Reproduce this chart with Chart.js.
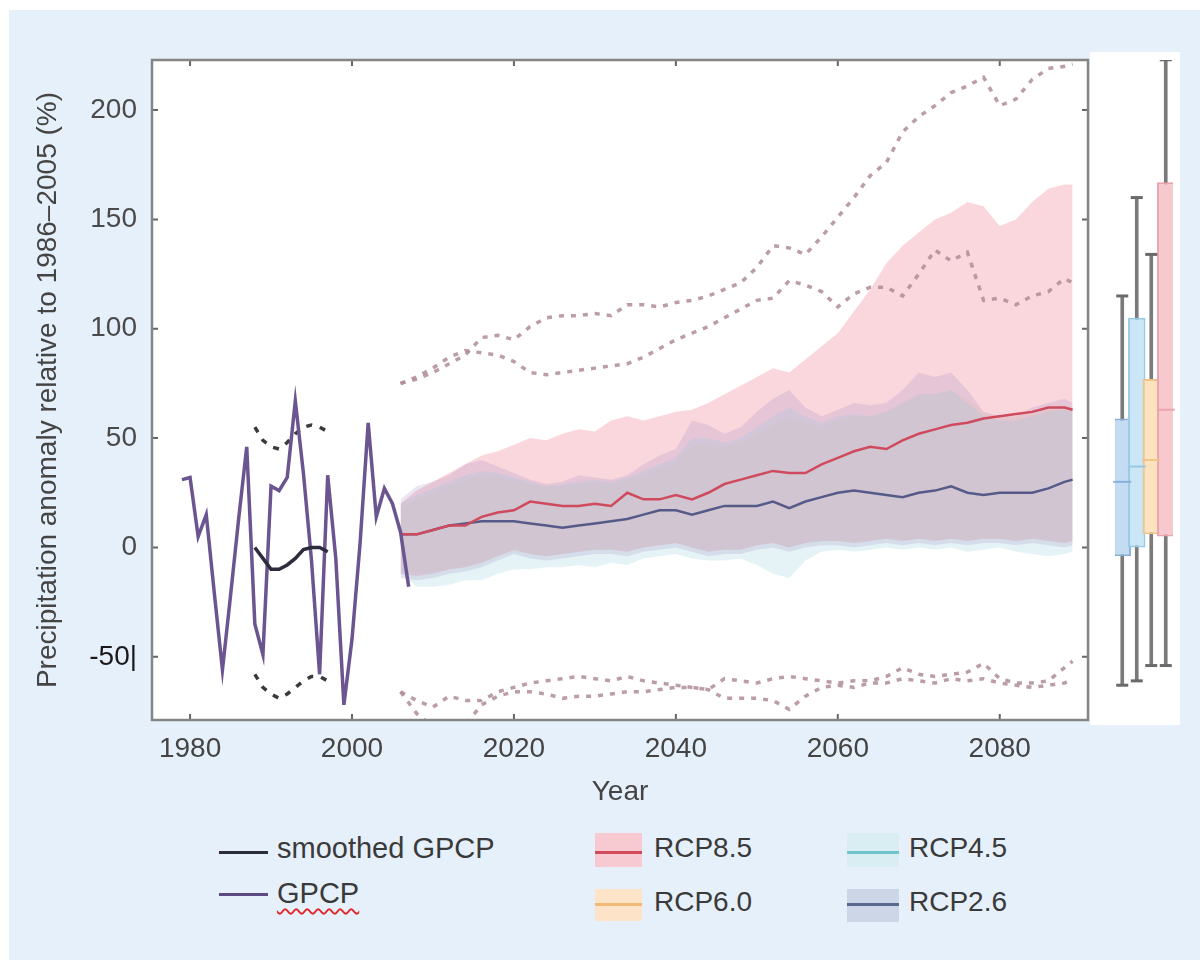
<!DOCTYPE html>
<html>
<head>
<meta charset="utf-8">
<title>Precipitation anomaly projections</title>
<script src="https://cdn.jsdelivr.net/npm/chart.js@4.4.1/dist/chart.umd.min.js"></script>
<style>
  html, body { margin: 0; padding: 0; background: #fff; }
  body { width: 1200px; height: 970px; position: relative; overflow: hidden;
         font-family: 'Liberation Sans', Arial, sans-serif; }
  #panel { position: absolute; left: 9px; top: 10px; width: 1191px; height: 950px; background: #e6f0fa; }
  #boxPanel { position: absolute; left: 1090px; top: 52px; width: 90px; height: 673px; background: #fff; }
  #main { position: absolute; left: 0; top: 0; }
  #boxes { position: absolute; left: 1104px; top: 0; }
  .lg { position: absolute; font-size: 28px; line-height: 28px; color: #3a3a3a; white-space: nowrap; }
  .sw { position: absolute; }
  .squiggle { text-decoration: underline wavy #e02626; text-decoration-thickness: 2px; text-underline-offset: 5px; }
</style>
</head>
<body>
<div id="panel"></div>
<div id="boxPanel"></div>
<canvas id="main" width="1100" height="830"></canvas>
<canvas id="boxes" width="80" height="780"></canvas>

<!-- legend -->
<div class="sw" style="left:219px;top:851px;width:49px;height:3px;background:#2c2c3c"></div>
<div class="lg" style="left:277px;top:834px;font-size:29px">smoothed GPCP</div>
<div class="sw" style="left:219px;top:893px;width:49px;height:3px;background:#5c4a80"></div>
<div class="lg" style="left:277px;top:879px;font-size:29px"><span class="squiggle">GPCP</span></div>

<div class="sw" style="left:595px;top:833px;width:47px;height:34px;background:#f7c9d0"></div>
<div class="sw" style="left:595px;top:851px;width:47px;height:3px;background:#d04a5c"></div>
<div class="lg" style="left:654px;top:834px">RCP8.5</div>
<div class="sw" style="left:595px;top:889px;width:47px;height:32px;background:#fde4c8"></div>
<div class="sw" style="left:595px;top:903px;width:47px;height:3px;background:#f2b878"></div>
<div class="lg" style="left:654px;top:888px">RCP6.0</div>

<div class="sw" style="left:847px;top:833px;width:52px;height:34px;background:#d9eef3"></div>
<div class="sw" style="left:847px;top:851px;width:52px;height:3px;background:#70c4cc"></div>
<div class="lg" style="left:909px;top:834px">RCP4.5</div>
<div class="sw" style="left:847px;top:889px;width:52px;height:33px;background:#cdd6e6"></div>
<div class="sw" style="left:847px;top:903px;width:52px;height:3px;background:#5a6890"></div>
<div class="lg" style="left:909px;top:888px">RCP2.6</div>

<script>
// Observed record (GPCP) and its smoothed version with bounds
var gpcpYears = [1979, 1980, 1981, 1982, 1983, 1984, 1985, 1986, 1987, 1988,
                 1989, 1990, 1991, 1992, 1993, 1994, 1995, 1996, 1997, 1998,
                 1999, 2000, 2001, 2002, 2003, 2004, 2005, 2006, 2007];
var gpcpValues = [31, 32, 5, 15, -21, -56, -22, 13, 46, -35,
                  -49, 28, 26, 32, 67, 34, -6, -58, 33, -5,
                  -72, -42, 2, 57, 14, 27, 20, 7, -18];

var smoothYears = [1988, 1989, 1990, 1991, 1992, 1993, 1994, 1995, 1996, 1997];
var smoothValues = [0, -5, -10, -10, -8, -5, -1, 0, 0, -2];
var smoothUpper = [55, 49, 46, 45, 48, 52, 55, 56, 55, 53];
var smoothLower = [-58, -64, -67, -69, -67, -64, -61, -59, -59, -61];

// Projections, two-year steps
var projYears = [2006, 2008, 2010, 2012, 2014, 2016, 2018, 2020, 2022, 2024,
                 2026, 2028, 2030, 2032, 2034, 2036, 2038, 2040, 2042, 2044,
                 2046, 2048, 2050, 2052, 2054, 2056, 2058, 2060, 2062, 2064,
                 2066, 2068, 2070, 2072, 2074, 2076, 2078, 2080, 2082, 2084,
                 2086, 2088, 2089];

var rcp85Mean = [6, 6, 8, 10, 10, 14, 16, 17, 21, 20,
                 19, 19, 20, 19, 25, 22, 22, 24, 22, 25,
                 29, 31, 33, 35, 34, 34, 38, 41, 44, 46,
                 45, 49, 52, 54, 56, 57, 59, 60, 61, 62,
                 64, 64, 63];
var rcp26Mean = [6, 6, 8, 10, 11, 12, 12, 12, 11, 10,
                 9, 10, 11, 12, 13, 15, 17, 17, 15, 17,
                 19, 19, 19, 21, 18, 21, 23, 25, 26, 25,
                 24, 23, 25, 26, 28, 25, 24, 25, 25, 25,
                 27, 30, 31];

var rcp85Hi = [20, 26, 30, 34, 38, 42, 44, 47, 50, 49,
               52, 54, 53, 58, 60, 58, 60, 62, 63, 66,
               70, 74, 78, 82, 80, 86, 92, 98, 108, 118,
               130, 138, 144, 150, 153, 158, 156, 147, 150, 158,
               164, 166, 166];
var rcp85Lo = [-12, -13, -12, -10, -9, -7, -4, -1, -3, -4,
               -3, -2, -1, -1, -2, 0, 1, 2, 0, -2,
               -1, -1, 1, 2, 0, 2, 3, 3, 2, 3,
               4, 3, 4, 3, 4, 3, 4, 4, 3, 4,
               3, 2, 3];
var rcp60Hi = [18, 22, 25, 28, 31, 33, 32, 31, 29, 28,
               28, 29, 30, 29, 31, 33, 36, 39, 46, 47,
               46, 48, 52, 56, 60, 57, 55, 58, 60, 60,
               62, 66, 70, 70, 72, 68, 62, 60, 60, 62,
               64, 65, 64];
var rcp60Lo = [-10, -12, -11, -10, -9, -7, -4, -2, -3, -4,
               -3, -2, -1, -1, -2, 0, 1, 2, 0, -2,
               -1, -1, 1, 2, 0, 2, 3, 3, 2, 3,
               4, 3, 4, 3, 4, 3, 4, 4, 3, 4,
               3, 2, 3];
var rcp45Hi = [20, 24, 27, 30, 33, 35, 34, 32, 30, 28,
               29, 30, 31, 30, 32, 35, 38, 41, 50, 50,
               48, 50, 55, 60, 64, 60, 57, 60, 61, 60,
               62, 66, 70, 70, 72, 66, 60, 58, 58, 60,
               62, 63, 62];
var rcp45Lo = [-12, -18, -18, -17, -15, -15, -12, -10, -10, -9,
               -9, -8, -9, -7, -8, -5, -4, -3, -5, -6,
               -6, -5, -8, -12, -14, -6, -2, -1, -2, -1,
               0, -1, 0, -1, 0, -2, -1, 0, -2, -3,
               -4, -3, -2];
var rcp26Hi = [22, 28, 30, 33, 38, 40, 37, 34, 31, 29,
               30, 33, 32, 31, 33, 38, 42, 45, 58, 56,
               52, 55, 62, 68, 72, 64, 60, 63, 66, 65,
               66, 72, 80, 78, 80, 72, 62, 60, 60, 64,
               66, 68, 66];
var rcp26Lo = [-14, -15, -14, -12, -11, -9, -6, -3, -5, -6,
               -5, -4, -3, -3, -4, -2, -1, 0, -2, -4,
               -3, -3, -1, 0, -2, 0, 1, 1, 0, 1,
               2, 1, 2, 1, 2, 1, 2, 2, 1, 2,
               1, 0, 1];

// Dashed envelope of the individual model runs
var extremeA = [75, 77, 80, 84, 88, 96, 97, 95, 101, 105,
                106, 106, 107, 106, 111, 111, 110, 112, 113, 115,
                118, 121, 128, 138, 137, 134, 142, 151, 160, 170,
                176, 190, 197, 202, 208, 211, 215, 202, 205, 214,
                219, 220, 221];
var extremeB = [75, 78, 82, 87, 90, 89, 88, 85, 80, 79,
                80, 81, 82, 83, 84, 87, 91, 95, 98, 101,
                105, 109, 113, 114, 122, 120, 117, 110, 116, 119,
                119, 115, 125, 136, 131, 135, 113, 114, 111, 115,
                117, 123, 121];
var extremeC = [-66, -70, -73, -68, -70, -70, -66, -64, -62, -61,
                -60, -59, -60, -61, -59, -61, -62, -63, -64, -65,
                -60, -61, -62, -60, -59, -60, -61, -62, -61, -61,
                -59, -55, -58, -59, -58, -57, -53, -60, -62, -62,
                -61, -55, -52];
var extremeD = [-66, -76, -82, -84, -81, -72, -68, -66, -66, -67,
                -69, -68, -68, -67, -66, -66, -65, -64, -64, -65,
                -69, -69, -69, -70, -74, -68, -64, -63, -64, -62,
                -62, -60, -61, -62, -60, -61, -60, -62, -63, -64,
                -63, -62, -60];

// Axis ticks
var yTickValues = [-50, 0, 50, 100, 150, 200];
var yTickLabels = ['-50|', '0', '50', '100', '150', '200'];
var xTickValues = [1980, 2000, 2020, 2040, 2060, 2080];
var xTickLabels = ['1980', '2000', '2020', '2040', '2060', '2080'];

// End-of-century spread per scenario
var boxLabels = ['RCP2.6', 'RCP4.5', 'RCP6.0', 'RCP8.5'];
var boxMin = [-63, -61, -54, -54];
var boxQ1 = [-4, 0, 6, 5];
var boxMedian = [30, 37, 40, 63];
var boxQ3 = [59, 105, 77, 167];
var boxMax = [115, 160, 134, 223];

var Y_MIN = -78.9, Y_MAX = 222.9;

Chart.defaults.font.family = "'Liberation Sans', Arial, sans-serif";
Chart.defaults.color = '#444';

function pts(xs, ys) {
  return xs.map(function (x, i) { return { x: x, y: ys[i] }; });
}

function lineSet(xs, ys, color, width, dash, order) {
  return { data: pts(xs, ys), borderColor: color, borderWidth: width,
           borderDash: dash || [], fill: false, order: order };
}

// upper edge fills down to the dataset that follows it
function bandSets(hi, lo, color, order) {
  return [
    { data: pts(projYears, hi), borderWidth: 0, borderColor: 'transparent',
      backgroundColor: color, fill: '+1', order: order },
    { data: pts(projYears, lo), borderWidth: 0, borderColor: 'transparent',
      fill: false, order: order }
  ];
}

var datasets = []
  .concat(bandSets(rcp85Hi, rcp85Lo, 'rgba(242,160,175,0.42)', 9))
  .concat(bandSets(rcp60Hi, rcp60Lo, 'rgba(250,200,140,0.12)', 8))
  .concat(bandSets(rcp45Hi, rcp45Lo, 'rgba(170,215,230,0.30)', 7))
  .concat(bandSets(rcp26Hi, rcp26Lo, 'rgba(160,140,190,0.22)', 6))
  .concat([
    lineSet(projYears, extremeA, 'rgba(175,140,150,0.85)', 3.5, [5, 7], 4),
    lineSet(projYears, extremeB, 'rgba(175,140,150,0.85)', 3.5, [5, 7], 4),
    lineSet(projYears, extremeC, 'rgba(175,140,150,0.85)', 3.5, [5, 7], 4),
    lineSet(projYears, extremeD, 'rgba(175,140,150,0.85)', 3.5, [5, 7], 4),
    lineSet(projYears, rcp85Mean, '#cf4a5c', 2.5, null, 3),
    lineSet(projYears, rcp26Mean, '#555a88', 2.5, null, 3),
    lineSet(smoothYears, smoothUpper, '#3a3a3a', 3.5, [6, 8], 2),
    lineSet(smoothYears, smoothLower, '#3a3a3a', 3.5, [6, 8], 2),
    lineSet(gpcpYears, gpcpValues, '#6a5590', 3.5, null, 1),
    lineSet(smoothYears, smoothValues, '#2c2c3c', 3.5, null, 0)
  ]);

// white plot area, grey frame and short inward ticks on all four sides
var plotFrame = {
  id: 'plotFrame',
  beforeDraw: function (chart) {
    var a = chart.chartArea, ctx = chart.ctx;
    ctx.save();
    ctx.fillStyle = '#fff';
    ctx.fillRect(a.left, a.top, a.right - a.left, a.bottom - a.top);
    ctx.restore();
  },
  afterDraw: function (chart) {
    var a = chart.chartArea, ctx = chart.ctx;
    var xs = chart.scales.x, ys = chart.scales.y;
    ctx.save();
    ctx.strokeStyle = '#666';
    ctx.lineWidth = 2;
    ctx.beginPath();
    xTickValues.forEach(function (v) {
      var px = xs.getPixelForValue(v);
      ctx.moveTo(px, a.bottom); ctx.lineTo(px, a.bottom - 6);
      ctx.moveTo(px, a.top); ctx.lineTo(px, a.top + 6);
    });
    yTickValues.forEach(function (v) {
      var py = ys.getPixelForValue(v);
      ctx.moveTo(a.left, py); ctx.lineTo(a.left + 6, py);
      ctx.moveTo(a.right, py); ctx.lineTo(a.right - 6, py);
    });
    ctx.stroke();
    ctx.strokeStyle = '#858585';
    ctx.lineWidth = 2.5;
    ctx.strokeRect(a.left, a.top, a.right - a.left, a.bottom - a.top);
    ctx.restore();
  }
};

new Chart(document.getElementById('main'), {
  type: 'line',
  data: { datasets: datasets },
  options: {
    responsive: false,
    animation: false,
    layout: { padding: { top: 60, right: 12, left: 0, bottom: 0 } },
    elements: { point: { radius: 0 }, line: { tension: 0 } },
    plugins: { legend: { display: false }, tooltip: { enabled: false } },
    scales: {
      x: {
        type: 'linear', min: 1975.3, max: 2090.9,
        grid: { display: false, drawTicks: false }, border: { display: false },
        afterBuildTicks: function (s) { s.ticks = xTickValues.map(function (v) { return { value: v }; }); },
        afterFit: function (s) { s.height = 110; },
        ticks: { padding: 12, color: '#444', font: { size: 28 }, autoSkip: false, maxRotation: 0,
                 callback: function (v) { return xTickLabels[xTickValues.indexOf(v)]; } },
        title: { display: true, text: 'Year', color: '#444', font: { size: 28 },
                 padding: { top: 0, bottom: 21 } }
      },
      y: {
        min: Y_MIN, max: Y_MAX,
        grid: { display: false, drawTicks: false }, border: { display: false },
        afterBuildTicks: function (s) { s.ticks = yTickValues.map(function (v) { return { value: v }; }); },
        afterFit: function (s) { s.width = 152; },
        ticks: { padding: 15, font: { size: 28 },
                 color: function (c) { return c.tick && c.tick.value === -50 ? '#1a1a1a' : '#4a4a4a'; },
                 callback: function (v) { return yTickLabels[yTickValues.indexOf(v)]; } },
        title: { display: true, text: 'Precipitation anomaly relative to 1986\u20132005 (%)',
                 color: '#444', font: { size: 28 }, padding: { top: 31, bottom: 0 } }
      }
    }
  },
  plugins: [plotFrame]
});

// Box plots beside the main panel, sharing its vertical range
var boxFill = ['#c4dcf2', '#cbe6f6', '#fde2bf', '#f7c9cf'];
var boxEdge = ['#88b0dc', '#96cbe6', '#f1c48a', '#e8a3ad'];

function capSet(values, radius, color, width) {
  return { type: 'line', data: values, showLine: false, pointStyle: 'line',
           pointRadius: radius, pointBorderWidth: width, pointBorderColor: color, order: 0 };
}

new Chart(document.getElementById('boxes'), {
  type: 'bar',
  data: {
    labels: boxLabels,
    datasets: [
      capSet(boxMedian, 9, boxEdge, 2),
      capSet(boxMax, 6, '#6a6a6a', 3),
      capSet(boxMin, 6, '#6a6a6a', 3),
      { data: boxQ1.map(function (q, i) { return [q, boxQ3[i]]; }),
        backgroundColor: boxFill, borderColor: boxEdge, borderWidth: 2, borderSkipped: false,
        grouped: false, barPercentage: 1.2, categoryPercentage: 1, order: 1 },
      { data: boxMin.map(function (m, i) { return [m, boxMax[i]]; }),
        backgroundColor: '#7a7a7a', barThickness: 3, grouped: false, order: 2 }
    ]
  },
  options: {
    responsive: false,
    animation: false,
    layout: { padding: { left: 8, right: 9, top: 60, bottom: 60 } },
    plugins: { legend: { display: false }, tooltip: { enabled: false } },
    scales: {
      x: { display: false, offset: true },
      y: { display: false, min: Y_MIN, max: Y_MAX }
    }
  }
});
</script>
</body>
</html>
